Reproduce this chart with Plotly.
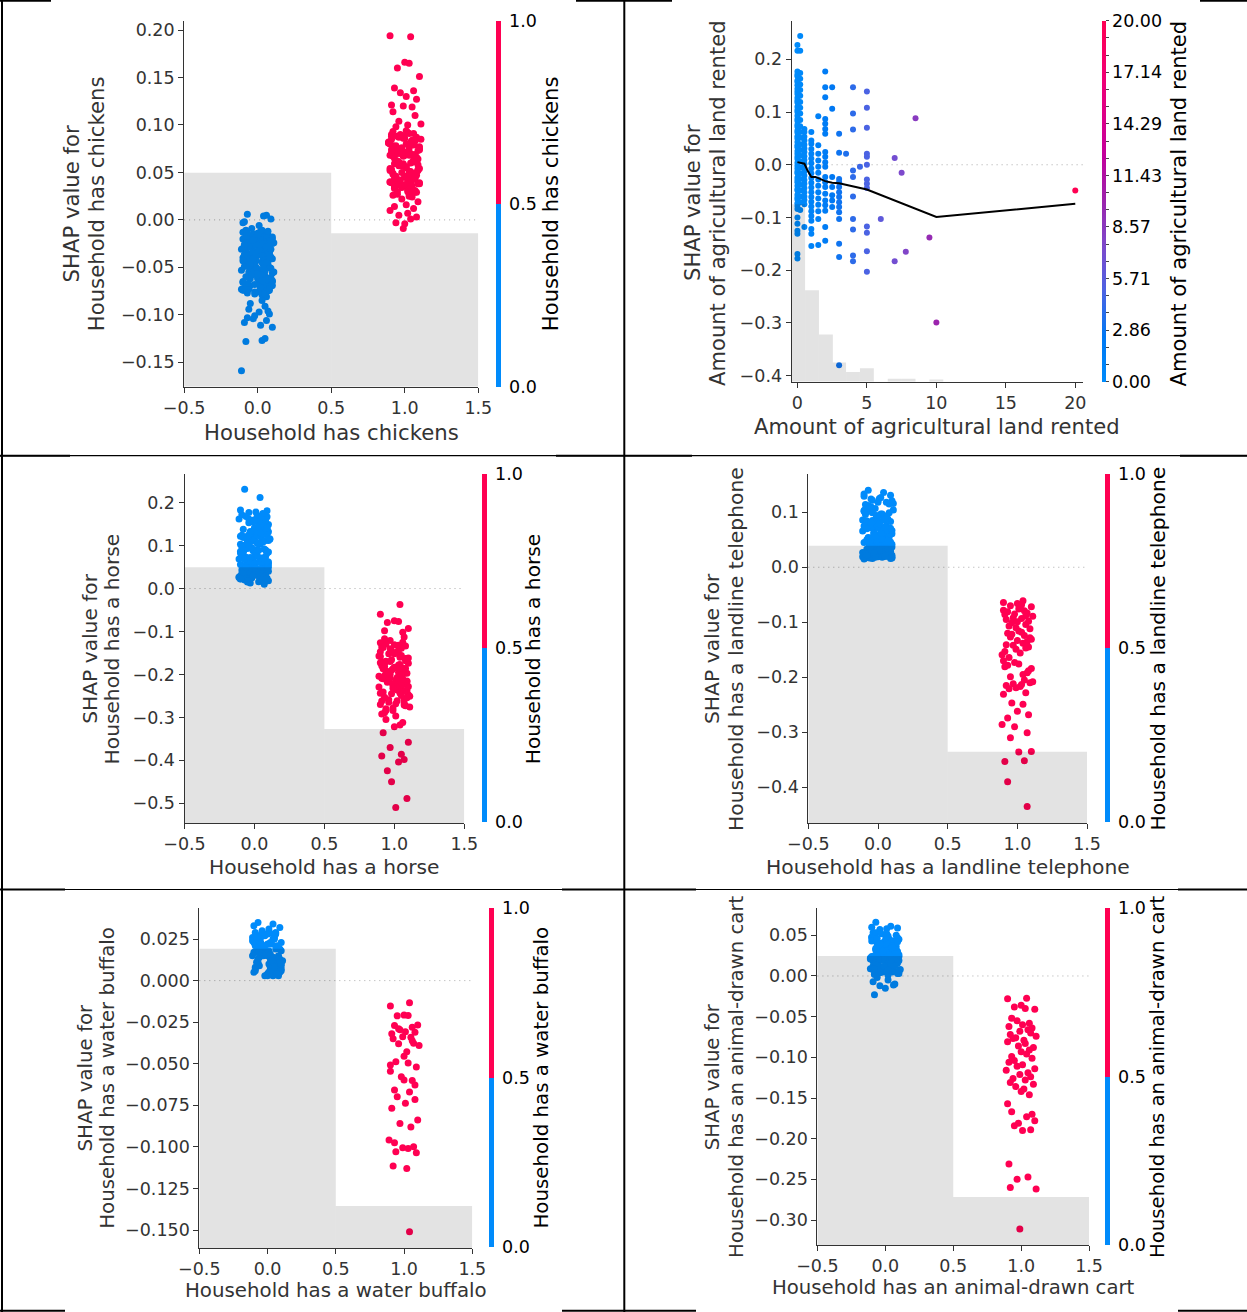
import plotly.graph_objects as go

FONT = "DejaVu Sans"
W, H = 1247, 1312
AXIS_COLOR = "#333333"
BLUE = "#008bfb"
RED = "#ff0052"

# ---------------------------------------------------------------- data
# horizontal jitter offsets used for the binary features (as in shap's x_jitter)
JITTER = [
    -0.07, 0.04, -0.10, 0.09, 0.01, -0.04, 0.06, -0.09, 0.03, 0.10,
    -0.02, 0.07, -0.06, 0.00, 0.08, -0.11, 0.05, -0.03, 0.02, -0.08,
    0.09, -0.05, 0.03, -0.01, 0.06, -0.09, 0.10, -0.07, 0.04, 0.00,
    -0.10, 0.08, -0.04, 0.02, -0.06, 0.05, -0.02, 0.11, -0.08, 0.01,
    0.07, -0.03, 0.04, -0.09, 0.09, -0.05, 0.00, 0.06, -0.07, 0.03,
    -0.01, 0.10, -0.10, 0.05, -0.04, 0.08, -0.06, 0.02, 0.07, -0.08,
    0.03, -0.02, 0.09, -0.09, 0.01, -0.05, 0.06, -0.11, 0.04, 0.00,
    0.08, -0.07, 0.05, -0.03, 0.10, -0.01, -0.06, 0.02, -0.09, 0.07,
    -0.04, 0.06, 0.00, -0.08, 0.09, 0.03, -0.10, 0.04, -0.02, 0.05,
    0.01, -0.06, 0.08, -0.05, 0.02, -0.09, 0.10, -0.03, 0.06, -0.07,
    0.04, -0.01, -0.08, 0.07, -0.04, 0.09, 0.00, -0.10, 0.03, 0.05,
    -0.06, 0.01, 0.08, -0.02, -0.07, 0.06, -0.09, 0.02, 0.10, -0.05,
    0.07, -0.03, 0.03, -0.08, 0.05, -0.11, 0.09, -0.01, 0.00, -0.06,
    0.04, 0.08, -0.04, 0.02, -0.10, 0.06, -0.07, 0.01, 0.09, -0.02,
    -0.05, 0.03, 0.07, -0.09, 0.05, -0.03, 0.10, -0.08, 0.00, 0.04,
    0.06, -0.06, 0.02, -0.01, 0.08, -0.10, 0.03, -0.04, 0.07, -0.07,
    0.05, -0.09, 0.01, 0.10, -0.05, 0.07, -0.02, -0.11, 0.04, -0.07,
    0.08, 0.00, -0.04, 0.06, -0.10, 0.02, 0.09, -0.06, 0.03, -0.01,
    -0.08, 0.11, -0.03, 0.05, -0.09, 0.07, 0.01, -0.05, 0.10, -0.02,
    0.04, -0.07, 0.08, -0.10, 0.00, 0.06, -0.04, 0.02, -0.08, 0.09,
    -0.06, 0.03, -0.01, 0.07, -0.11, 0.05, -0.03, 0.10, -0.09, 0.01,
    0.08, -0.05, 0.04, -0.07, 0.06, 0.00, -0.02, 0.09, -0.10, 0.03,
    -0.06, 0.02, 0.11, -0.04, 0.07, -0.08, 0.05, -0.01, -0.09, 0.08,
    0.01, -0.03, 0.06, -0.07, 0.10, -0.05, 0.03, 0.00, -0.10, 0.04,
]

# --- Household has chickens
CHICKEN_NAME = "Household has chickens"
CHICKEN_SHAP_NO = [
    0.006, 0.004, -0.003, 0.001, -0.006, -0.009, 0.005, -0.002,
    -0.013, -0.041, -0.027, -0.066, -0.018, -0.052, -0.034, -0.073, -0.022, -0.047,
    -0.058, -0.011, -0.039, -0.069, -0.030, -0.015, -0.061, -0.044, -0.025, -0.077,
    -0.036, -0.054, -0.020, -0.064, -0.049, -0.012, -0.071, -0.032, -0.057, -0.024,
    -0.043, -0.068, -0.016, -0.038, -0.075, -0.029, -0.051, -0.062, -0.014, -0.046,
    -0.035, -0.079, -0.021, -0.056, -0.040, -0.067, -0.026, -0.050, -0.017, -0.072,
    -0.033, -0.060, -0.045, -0.023, -0.070, -0.037, -0.053, -0.019, -0.063, -0.031,
    -0.048, -0.076, -0.028, -0.042, -0.059, -0.015, -0.065, -0.035, -0.055, -0.024,
    -0.074, -0.039, -0.047, -0.020, -0.062, -0.030, -0.068, -0.044, -0.013, -0.052,
    -0.078, -0.027, -0.058, -0.036, -0.071, -0.041, -0.018, -0.049, -0.064, -0.033,
    -0.081, -0.022, -0.054, -0.038, -0.069, -0.045, -0.029, -0.061, -0.016, -0.074,
    -0.085, -0.091, -0.094, -0.097, -0.099, -0.101, -0.103, -0.106, -0.108, -0.111, -0.113,
    -0.088, -0.096, -0.104, -0.127, -0.128, -0.125, -0.159,
    -0.019, -0.043, -0.061, -0.028, -0.072, -0.035, -0.052, -0.014, -0.066, -0.040,
    -0.024, -0.057, -0.031, -0.076, -0.047, -0.011, -0.063, -0.037, -0.054, -0.021,
    -0.069, -0.044, -0.027, -0.059, -0.016, -0.073, -0.033, -0.050, -0.023, -0.065,
    -0.038, -0.056, -0.012, -0.070, -0.042, -0.029, -0.060, -0.018, -0.048, -0.075,
    -0.034, -0.053, -0.025, -0.067, -0.039, -0.015, -0.058, -0.045, -0.030, -0.071,
    -0.022, -0.049, -0.064, -0.036, -0.017, -0.055, -0.041, -0.078, -0.026, -0.062,
    -0.032, -0.046, -0.020, -0.068, -0.051, -0.013, -0.074, -0.043, -0.057, -0.028,
]
CHICKEN_SHAP_YES = [
    0.193, 0.194, 0.166, 0.165, 0.160, 0.151, 0.139, 0.136, 0.134, 0.130,
    0.127, 0.121, 0.120, 0.119, 0.114, 0.110, 0.104, 0.101, 0.100, 0.098,
    0.091, 0.052, 0.073, 0.034, 0.086, 0.061, 0.044, 0.079, 0.027, 0.066,
    0.055, 0.088, 0.038, 0.070, 0.048, 0.082, 0.031, 0.059, 0.076, 0.041,
    0.064, 0.093, 0.036, 0.057, 0.084, 0.046, 0.068, 0.029, 0.074, 0.051,
    0.089, 0.039, 0.062, 0.080, 0.043, 0.071, 0.033, 0.058, 0.085, 0.049,
    0.067, 0.025, 0.078, 0.053, 0.092, 0.040, 0.063, 0.075, 0.045, 0.087,
    0.035, 0.060, 0.081, 0.050, 0.069, 0.030, 0.077, 0.056, 0.090, 0.042,
    0.065, 0.083, 0.037, 0.072, 0.054, 0.047, 0.086, 0.032, 0.061, 0.079,
    0.044, 0.068, 0.026, 0.074, 0.058, 0.084, 0.039, 0.064, 0.051, 0.070,
    0.022, 0.019, 0.016, 0.014, 0.012, 0.010, 0.007, 0.005, 0.003, 0.001,
    -0.003, -0.004, -0.009,
    0.058, 0.081, 0.036, 0.067, 0.047, 0.090, 0.029, 0.073, 0.054, 0.041,
    0.085, 0.062, 0.033, 0.076, 0.050, 0.094, 0.044, 0.069, 0.027, 0.080,
    0.056, 0.038, 0.087, 0.065, 0.048, 0.072, 0.031, 0.059, 0.083, 0.042,
    0.075, 0.053, 0.035, 0.088, 0.064, 0.046, 0.071, 0.024, 0.057, 0.082,
    0.040, 0.068, 0.052, 0.078, 0.037, 0.091, 0.061, 0.045, 0.074, 0.030,
]
CHICKEN_HIST_TOP = [0.0497, -0.0141]

# --- Household has a horse
HORSE_NAME = "Household has a horse"
HORSE_SHAP_NO = [
    0.231, 0.212, 0.183, 0.181, 0.178, 0.177, 0.175, 0.172,
    0.151, 0.062, 0.118, 0.034, 0.096, 0.141, 0.075, 0.027, 0.129, 0.053,
    0.163, 0.088, 0.041, 0.110, 0.145, 0.068, 0.022, 0.124, 0.057, 0.099,
    0.156, 0.036, 0.083, 0.134, 0.047, 0.105, 0.168, 0.071, 0.025, 0.115,
    0.138, 0.059, 0.092, 0.031, 0.147, 0.078, 0.044, 0.121, 0.160, 0.065,
    0.101, 0.029, 0.131, 0.050, 0.086, 0.153, 0.038, 0.112, 0.073, 0.166,
    0.024, 0.094, 0.143, 0.055, 0.126, 0.081, 0.033, 0.107, 0.158, 0.069,
    0.045, 0.136, 0.090, 0.020, 0.117, 0.061, 0.149, 0.039, 0.098, 0.128,
    0.076, 0.030, 0.162, 0.052, 0.113, 0.084, 0.140, 0.043, 0.103, 0.067,
    0.026, 0.155, 0.079, 0.120, 0.048, 0.093, 0.170, 0.035, 0.132, 0.058,
    0.108, 0.028, 0.146, 0.072, 0.087, 0.040, 0.125, 0.063, 0.157, 0.023,
    0.037, 0.046, 0.031, 0.042, 0.027, 0.050, 0.035, 0.044, 0.029, 0.039,
    0.018, 0.015, 0.010, 0.013, 0.016,
    0.119, 0.047, 0.162, 0.083, 0.031, 0.139, 0.066, 0.104, 0.025, 0.153,
    0.091, 0.056, 0.127, 0.038, 0.075, 0.167, 0.110, 0.049, 0.144, 0.022,
    0.097, 0.061, 0.133, 0.085, 0.034, 0.115, 0.158, 0.070, 0.042, 0.124,
    0.088, 0.150, 0.029, 0.106, 0.064, 0.137, 0.053, 0.169, 0.080, 0.036,
    0.112, 0.045, 0.147, 0.095, 0.026, 0.130, 0.068, 0.160, 0.058, 0.102,
    0.039, 0.122, 0.077, 0.141, 0.030, 0.089, 0.155, 0.051, 0.116, 0.072,
    0.035, 0.043, 0.028, 0.048, 0.033, 0.040, 0.025, 0.046, 0.037, 0.030,
    0.022, 0.041, 0.027, 0.044, 0.032, 0.038, 0.024, 0.049, 0.036, 0.029,
]
HORSE_SHAP_YES = [
    -0.037, -0.060, -0.075, -0.077, -0.079, -0.093, -0.098, -0.102,
    -0.121, -0.213, -0.164, -0.262, -0.187, -0.139, -0.241, -0.198, -0.152, -0.276,
    -0.225, -0.129, -0.206, -0.173, -0.254, -0.145, -0.233, -0.191, -0.289, -0.160,
    -0.218, -0.134, -0.268, -0.180, -0.247, -0.200, -0.156, -0.229, -0.113, -0.284,
    -0.195, -0.169, -0.238, -0.210, -0.148, -0.259, -0.185, -0.222, -0.126, -0.273,
    -0.203, -0.177, -0.245, -0.162, -0.216, -0.297, -0.189, -0.136, -0.231, -0.208,
    -0.251, -0.171, -0.226, -0.143, -0.280, -0.197, -0.236, -0.158, -0.212, -0.265,
    -0.183, -0.219, -0.117, -0.243, -0.204, -0.166, -0.257, -0.193, -0.228, -0.150,
    -0.292, -0.201, -0.175, -0.239, -0.214, -0.132, -0.270, -0.186, -0.223, -0.207,
    -0.305, -0.312, -0.318, -0.322, -0.336, -0.358, -0.370, -0.386, -0.390, -0.398,
    -0.404, -0.424, -0.450, -0.489, -0.510,
    -0.182, -0.224, -0.147, -0.261, -0.205, -0.168, -0.240, -0.193, -0.131, -0.278,
    -0.215, -0.157, -0.249, -0.187, -0.220, -0.140, -0.266, -0.199, -0.174, -0.234,
    -0.209, -0.125, -0.255, -0.190, -0.163, -0.228, -0.284, -0.202, -0.178, -0.244,
    -0.152, -0.217, -0.196, -0.271, -0.137, -0.232, -0.185, -0.253, -0.211, -0.170,
]
HORSE_HIST_TOP = [0.0496, -0.327]

# --- Household has a landline telephone
PHONE_NAME = "Household has a landline telephone"
PHONE_SHAP_NO = [
    0.140, 0.136, 0.133, 0.131, 0.125, 0.122, 0.118, 0.114,
    0.097, 0.042, 0.071, 0.025, 0.108, 0.056, 0.034, 0.086, 0.020, 0.063,
    0.047, 0.101, 0.029, 0.077, 0.038, 0.092, 0.052, 0.022, 0.067, 0.112,
    0.031, 0.082, 0.045, 0.058, 0.026, 0.095, 0.040, 0.073, 0.018, 0.104,
    0.050, 0.035, 0.088, 0.061, 0.024, 0.079, 0.043, 0.110, 0.032, 0.069,
    0.054, 0.021, 0.090, 0.037, 0.075, 0.027, 0.048, 0.099, 0.041, 0.065,
    0.023, 0.084, 0.033, 0.059, 0.046, 0.106, 0.028, 0.072, 0.039, 0.019,
    0.060, 0.030, 0.044, 0.025, 0.051, 0.036, 0.022, 0.041, 0.028, 0.033,
    0.017, 0.020, 0.016, 0.024, 0.019, 0.018, 0.026, 0.021, 0.015, 0.023,
    0.055, 0.031, 0.083, 0.022, 0.068, 0.041, 0.097, 0.027, 0.061, 0.036,
    0.076, 0.019, 0.049, 0.087, 0.033, 0.058, 0.025, 0.071, 0.044, 0.102,
    0.029, 0.064, 0.038, 0.080, 0.021, 0.052, 0.034, 0.093, 0.026, 0.046,
    0.018, 0.039, 0.024, 0.057, 0.031, 0.020, 0.043, 0.027, 0.035, 0.022,
    0.050, 0.017, 0.030, 0.040, 0.023, 0.028, 0.019, 0.037, 0.025, 0.032,
    0.016, 0.021, 0.029, 0.018, 0.034, 0.024, 0.020, 0.027, 0.017, 0.022,
    0.118, 0.064, 0.091, 0.047, 0.127, 0.078, 0.055, 0.103, 0.069, 0.085,
    0.042, 0.112, 0.073, 0.096, 0.058, 0.121, 0.081, 0.049, 0.107, 0.066,
    0.088, 0.053, 0.115, 0.075, 0.099, 0.045, 0.129, 0.062, 0.083, 0.109,
    0.051, 0.094, 0.070, 0.116, 0.057, 0.086, 0.101, 0.048, 0.079, 0.124,
]
PHONE_SHAP_YES = [
    -0.061, -0.064, -0.066, -0.068, -0.070, -0.072,
    -0.081, -0.104, -0.092, -0.076, -0.098, -0.086, -0.110, -0.079, -0.095, -0.083,
    -0.101, -0.089, -0.074, -0.107, -0.093, -0.078, -0.112, -0.085, -0.099, -0.088,
    -0.120, -0.138, -0.127, -0.145, -0.116, -0.153, -0.131, -0.142, -0.124, -0.159,
    -0.135, -0.149, -0.118, -0.164, -0.128, -0.141, -0.156, -0.122, -0.147, -0.133,
    -0.170, -0.188, -0.178, -0.195, -0.173, -0.184, -0.199, -0.176, -0.192, -0.181,
    -0.205, -0.212, -0.208, -0.215, -0.219, -0.213, -0.221, -0.210, -0.217, -0.231,
    -0.228, -0.247, -0.262, -0.268, -0.274, -0.249, -0.286, -0.290, -0.301, -0.310,
    -0.335, -0.336, -0.353, -0.352, -0.390, -0.435,
]
PHONE_HIST_TOP = [0.0393, -0.3353]

# --- Household has a water buffalo
BUFFALO_NAME = "Household has a water buffalo"
BUFFALO_SHAP_NO = [
    0.035, 0.034, 0.033, 0.032, 0.031, 0.030,
    0.012, 0.024, 0.006, 0.018, 0.028, 0.009, 0.021, 0.004, 0.015, 0.026,
    0.008, 0.019, 0.013, 0.027, 0.005, 0.022, 0.010, 0.016, 0.029, 0.007,
    0.023, 0.011, 0.025, 0.004, 0.017, 0.014, 0.020, 0.006, 0.027, 0.009,
    0.018, 0.012, 0.024, 0.005, 0.021, 0.015, 0.028, 0.008, 0.013, 0.026,
    0.003, 0.019, 0.010, 0.022, 0.016, 0.007, 0.025, 0.011, 0.020, 0.004,
    0.014, 0.023, 0.009, 0.017, 0.006, 0.027, 0.012, 0.021, 0.005, 0.018,
    0.010, 0.024, 0.003, 0.015, 0.008, 0.022, 0.013, 0.019, 0.006, 0.016,
    0.017, 0.008, 0.025, 0.013, 0.021, 0.005, 0.028, 0.011, 0.019, 0.007,
    0.023, 0.014, 0.003, 0.026, 0.010, 0.018, 0.006, 0.022, 0.015, 0.029,
    0.009, 0.020, 0.004, 0.024, 0.012, 0.016, 0.027, 0.007, 0.019, 0.011,
    0.022, 0.005, 0.014, 0.025, 0.009, 0.018, 0.003, 0.021, 0.013, 0.028,
    0.006, 0.016, 0.010, 0.023, 0.004, 0.020, 0.012, 0.026, 0.008, 0.015,
]
BUFFALO_SHAP_YES = [
    -0.0133, -0.0153, -0.0207, -0.0210, -0.0212, -0.0267, -0.0270, -0.0280,
    -0.0295, -0.0307, -0.0310, -0.0320, -0.0337, -0.0340, -0.0350, -0.0377,
    -0.0380, -0.0390, -0.0428, -0.0488, -0.0495, -0.0508, -0.0520, -0.0578,
    -0.0598, -0.0600, -0.0658, -0.0670, -0.0698, -0.0715, -0.0738, -0.0768,
    -0.0839, -0.0859, -0.0880, -0.0959, -0.0999, -0.1005, -0.1010, -0.1029,
    -0.1035, -0.1115, -0.1130, -0.0290, -0.0362, -0.0455, -0.0545, -0.0628,
    -0.0975, -0.1510,
]
BUFFALO_HIST_TOP = [0.0192, -0.1356]

# --- Household has an animal-drawn cart
CART_NAME = "Household has an animal-drawn cart"
CART_SHAP_NO = [
    0.066, 0.061, 0.060, 0.059, 0.058, 0.057,
    0.031, 0.012, 0.045, 0.024, 0.005, 0.038, 0.017, 0.050, 0.028, 0.009,
    0.042, 0.021, 0.034, 0.002, 0.047, 0.014, 0.026, 0.039, 0.007, 0.053,
    0.019, 0.032, 0.011, 0.044, 0.023, 0.036, 0.004, 0.049, 0.016, 0.029,
    0.041, 0.008, 0.025, 0.052, 0.013, 0.035, 0.020, 0.046, 0.003, 0.030,
    0.018, 0.043, 0.010, 0.027, 0.037, 0.006, 0.048, 0.022, 0.033, 0.015,
    0.040, 0.001, 0.027, 0.051, 0.012, 0.024, 0.044, 0.018, 0.035, 0.009,
    0.029, 0.021, 0.014, 0.038, 0.025, 0.016, 0.031, 0.020, 0.026, 0.022,
    -0.002, -0.005, -0.007, -0.010, -0.012, -0.011, -0.015, -0.023,
    0.028, 0.011, 0.043, 0.020, 0.036, 0.005, 0.049, 0.016, 0.032, 0.024,
    0.039, 0.008, 0.045, 0.027, 0.013, 0.053, 0.019, 0.034, 0.002, 0.041,
    0.023, 0.030, 0.010, 0.047, 0.017, 0.037, 0.026, 0.006, 0.050, 0.021,
    0.033, 0.014, 0.044, 0.029, 0.003, 0.038, 0.018, 0.052, 0.025, 0.009,
    0.035, 0.022, 0.042, 0.012, 0.031, 0.046, 0.015, 0.027, 0.040, 0.007,
    0.024, 0.019, 0.034, 0.028, 0.016, 0.030, 0.021, 0.026, 0.013, 0.023,
]
CART_SHAP_YES = [
    -0.0275, -0.0280, -0.036, -0.040, -0.038, -0.041, -0.052, -0.058, -0.055, -0.060,
    -0.064, -0.062, -0.068, -0.066, -0.072, -0.070, -0.076, -0.074, -0.079, -0.077,
    -0.083, -0.081, -0.088, -0.086, -0.093, -0.091, -0.099, -0.096, -0.104, -0.101,
    -0.109, -0.106, -0.114, -0.111, -0.119, -0.116, -0.124, -0.121, -0.128, -0.126,
    -0.133, -0.131, -0.139, -0.136, -0.146, -0.142, -0.157, -0.170, -0.167, -0.173,
    -0.181, -0.178, -0.184, -0.190, -0.189, -0.231, -0.247, -0.250, -0.262, -0.260,
    -0.311,
]
CART_HIST_TOP = [0.0246, -0.2717]

# --- Amount of agricultural land rented (continuous feature)
LAND_NAME = "Amount of agricultural land rented"
LAND_AMOUNTS = [0.0, 0.2, 0.5, 1.0, 1.5, 2.0, 2.5, 3.0, 3.5, 4.0, 4.5, 5.0,
                6.0, 7.0, 7.5, 7.8, 8.5, 9.5, 10.0, 20.0]
LAND_SHAP_BY_AMOUNT = [
    [0.227, 0.216, 0.177, 0.171, 0.168, 0.160, 0.157, 0.151, 0.144, 0.139, 0.134,
     0.127, 0.122, 0.118, 0.110, 0.104, 0.100, 0.093, 0.087, 0.083, 0.076, 0.072,
     0.065, 0.061, 0.054, 0.050, 0.043, 0.037, 0.033, 0.026, 0.021, 0.015, 0.011,
     0.004, -0.002, -0.007, -0.013, -0.016, -0.024, -0.029, -0.033, -0.040, -0.046,
     -0.049, -0.057, -0.062, -0.066, -0.073, -0.078, -0.084, -0.100, -0.112, -0.125,
     -0.131, -0.169, -0.178],
    [0.244, 0.216, 0.174, 0.163, 0.152, 0.142, 0.131, 0.119, 0.108, 0.097, 0.085,
     0.073, 0.062, 0.051, 0.039, 0.028, 0.017, 0.006, -0.005, -0.016, -0.027, -0.038,
     -0.049, -0.060, -0.071, -0.086],
    [0.068, 0.062, 0.053, 0.046, 0.038, 0.031, 0.024, 0.016, 0.009, 0.002, -0.006,
     -0.013, -0.021, -0.029, -0.036, -0.044, -0.052, -0.060, -0.067, -0.075, -0.118],
    [0.062, 0.046, 0.040, 0.030, 0.021, 0.012, 0.003, -0.007, -0.016, -0.025, -0.034,
     -0.043, -0.052, -0.061, -0.070, -0.079, -0.088, -0.097, -0.106, -0.122, -0.131,
     -0.154],
    [0.092, 0.037, 0.021, 0.008, -0.004, -0.015, -0.028, -0.040, -0.052, -0.064,
     -0.076, -0.088, -0.103, -0.152],
    [0.177, 0.147, 0.128, 0.087, 0.078, 0.068, 0.059, 0.024, 0.015, 0.005, -0.004,
     -0.023, -0.033, -0.042, -0.055, -0.068, -0.077, -0.087, -0.118, -0.144],
    [0.147, 0.106, -0.023, -0.042, -0.058, -0.068, -0.080],
    [0.059, 0.023, -0.027, -0.033, -0.042, -0.052, -0.061, -0.071, -0.080, -0.090,
     -0.103, -0.150, -0.175, -0.380],
    [0.021],
    [0.147, 0.097, 0.067, -0.011, -0.023, -0.060, -0.103, -0.123, -0.172, -0.183],
    [-0.004],
    [0.139, 0.108, 0.070, 0.021, 0.015, 0.000, -0.028, -0.036, -0.044, -0.117,
     -0.129, -0.164, -0.203],
    [-0.103],
    [0.013, -0.183],
    [-0.015],
    [-0.165],
    [0.088],
    [-0.138],
    [-0.299],
    [-0.049],
]
LAND_TREND_X = [0.0, 0.5, 0.75, 1.0, 1.3, 2.0, 2.5, 3.0, 5.0, 10.0, 20.0]
LAND_TREND_Y = [0.005, 0.002, -0.012, -0.023, -0.023, -0.031, -0.034, -0.035, -0.047, -0.099, -0.074]
LAND_HIST_LEFT = [-0.5, 0.55, 1.55, 2.55, 3.5, 4.5, 6.5, 7.5, 9.5]
LAND_HIST_RIGHT = [0.55, 1.55, 2.55, 3.5, 4.5, 5.5, 7.5, 8.5, 10.5]
LAND_HIST_TOP = [-0.075, -0.238, -0.322, -0.375, -0.393, -0.386, -0.406, -0.406, -0.407]

# ---------------------------------------------------------------- layout helpers
fig = go.Figure()
layout = dict(
    width=W, height=H, margin=dict(l=0, r=0, t=0, b=0, pad=0, autoexpand=False),
    paper_bgcolor="white", plot_bgcolor="white", showlegend=False,
    barmode="overlay", font=dict(family=FONT, color=AXIS_COLOR),
)
annotations = []
shapes = []

TICK_FONT = dict(family=FONT, size=17.5, color=AXIS_COLOR)
CB_FONT = dict(family=FONT, size=17.5, color="black")
MARKER_SIZE = 7

SHAP_RED_BLUE = [
    [0.0, "rgb(0,139,251)"], [0.125, "rgb(0,120,243)"], [0.25, "rgb(75,99,227)"],
    [0.375, "rgb(125,73,204)"], [0.5, "rgb(155,36,173)"], [0.625, "rgb(194,0,156)"],
    [0.75, "rgb(224,0,134)"], [0.875, "rgb(245,0,109)"], [1.0, "rgb(255,0,82)"],
]
BINARY_SCALE = [[0.0, BLUE], [0.5, BLUE], [0.5, RED], [1.0, RED]]


def fmt(v, nd):
    s = f"{v:.{nd}f}"
    if s.startswith("-"):
        s = "\u2212" + s[1:]
    return s


def sid(i):
    return "" if i == 1 else str(i)


def text(t, x, y, size, color, angle=0):
    annotations.append(dict(
        text=t, x=x / W, y=1 - y / H, xref="paper", yref="paper", showarrow=False,
        xanchor="center", yanchor="middle", textangle=angle,
        font=dict(family=FONT, size=size, color=color)))


def setup_axes(i, box, xr, yr, xticks, xnd, yticks, ynd):
    x0, y0, x1, y1 = box
    s = sid(i)
    common = dict(showline=True, linecolor=AXIS_COLOR, linewidth=1, ticks="outside",
                  ticklen=5, tickwidth=1, tickcolor=AXIS_COLOR, tickfont=TICK_FONT,
                  showgrid=False, zeroline=False, fixedrange=True, automargin=False)
    layout["xaxis" + s] = dict(domain=[x0 / W, x1 / W], range=xr, anchor="y" + s,
                               tickvals=xticks, ticktext=[fmt(v, xnd) for v in xticks],
                               **common)
    layout["yaxis" + s] = dict(domain=[1 - y1 / H, 1 - y0 / H], range=yr, anchor="x" + s,
                               tickvals=yticks, ticktext=[fmt(v, ynd) for v in yticks],
                               **common)
    layout["yaxis" + str(i + 6)] = dict(overlaying="y" + s, anchor="x" + s, range=yr,
                                        visible=False, fixedrange=True)
    shapes.append(dict(type="line", xref=f"x{s} domain", yref="y" + s, x0=0, x1=1, y0=0, y1=0,
                       line=dict(color="#aaaaaa", width=1, dash="1px,4px"), layer="below"))


def colorbar(i, scale, cmax, cb, tickvals, ticktext, ticklen, tickcolor):
    cx, cw, ct, cbm = cb
    key = "coloraxis" + sid(i)
    layout[key] = dict(
        colorscale=scale, cmin=0, cmax=cmax,
        colorbar=dict(
            thickness=cw, thicknessmode="pixels", len=cbm - ct, lenmode="pixels",
            x=cx / W, xanchor="left", xpad=0, y=1 - ct / H, yanchor="top", ypad=0,
            outlinewidth=0, tickvals=tickvals, ticktext=ticktext, ticks="outside",
            ticklen=ticklen, tickwidth=1, tickcolor=tickcolor, tickfont=CB_FONT))
    return key


def titles(name, size, xt, yt1, yt2, cbt):
    text(name, xt[0], xt[1], size, AXIS_COLOR)
    text("SHAP value for", yt1[0], yt1[1], size, AXIS_COLOR, -90)
    text(name, yt2[0], yt2[1], size, AXIS_COLOR, -90)
    text(name, cbt[0], cbt[1], size, "black", -90)


def binary_panel(i, name, shap_no, shap_yes, hist_top, box, yr, yticks, ynd, cb,
                 tsize, xt, yt1, yt2, cbt):
    s = sid(i)
    setup_axes(i, box, [-0.5, 1.5], yr, [-0.5, 0.0, 0.5, 1.0, 1.5], 1, yticks, ynd)
    cax = colorbar(i, BINARY_SCALE, 1, cb, [0, 0.5, 1], ["0.0", "0.5", "1.0"], 5,
                   "rgba(0,0,0,0)")
    xs = [0 + JITTER[k] for k in range(len(shap_no))] + \
         [1 + JITTER[-1 - k] for k in range(len(shap_yes))]
    ys = shap_no + shap_yes
    cs = [0] * len(shap_no) + [1] * len(shap_yes)
    fig.add_trace(go.Scatter(x=xs, y=ys, mode="markers", xaxis="x" + s, yaxis="y" + s,
                             marker=dict(size=MARKER_SIZE, color=cs, coloraxis=cax,
                                         line=dict(width=0)),
                             hoverinfo="skip"))
    fig.add_trace(go.Bar(x=[0, 1], y=[t - yr[0] for t in hist_top], base=yr[0], width=[1, 1],
                         xaxis="x" + s, yaxis="y" + str(i + 6),
                         marker=dict(color="rgba(0,0,0,0.11)", line=dict(width=0)),
                         hoverinfo="skip"))
    titles(name, tsize, xt, yt1, yt2, cbt)


# ---------------------------------------------------------------- panels
binary_panel(1, CHICKEN_NAME, CHICKEN_SHAP_NO, CHICKEN_SHAP_YES, CHICKEN_HIST_TOP,
             (184.1, 20.7, 478.3, 386.7), [-0.1757, 0.2098],
             [0.20, 0.15, 0.10, 0.05, 0.0, -0.05, -0.10, -0.15], 2,
             (496.2, 4.5, 20.7, 386.7), 21.2,
             (331, 432), (71.7, 203.8), (96.4, 203.8), (550.4, 203.8))

binary_panel(3, HORSE_NAME, HORSE_SHAP_NO, HORSE_SHAP_YES, HORSE_HIST_TOP,
             (184.5, 474.3, 464.3, 823.3), [-0.5466, 0.266],
             [0.2, 0.1, 0.0, -0.1, -0.2, -0.3, -0.4, -0.5], 1,
             (482.3, 4.5, 474.3, 822.7), 20.2,
             (324.4, 866.7), (89.7, 649), (112.4, 649), (533.3, 649))

binary_panel(4, PHONE_NAME, PHONE_SHAP_NO, PHONE_SHAP_YES, PHONE_HIST_TOP,
             (808.3, 474.3, 1087.1, 823.3), [-0.4655, 0.169],
             [0.1, 0.0, -0.1, -0.2, -0.3, -0.4], 1,
             (1105, 4.5, 474.3, 822.7), 20.3,
             (947.7, 866.7), (712, 649), (736, 649), (1157.5, 649))

binary_panel(5, BUFFALO_NAME, BUFFALO_SHAP_NO, BUFFALO_SHAP_YES, BUFFALO_HIST_TOP,
             (199.3, 908.3, 472.3, 1248.3), [-0.161, 0.0435],
             [0.025, 0.0, -0.025, -0.05, -0.075, -0.10, -0.125, -0.15], 3,
             (489.4, 4.5, 908.3, 1247.7), 19.8,
             (335.8, 1290), (84.5, 1078), (106.8, 1078), (540.5, 1078))

binary_panel(6, CART_NAME, CART_SHAP_NO, CART_SHAP_YES, CART_HIST_TOP,
             (817.4, 908.3, 1089.1, 1245), [-0.3307, 0.0832],
             [0.05, 0.0, -0.05, -0.10, -0.15, -0.20, -0.25, -0.30], 2,
             (1105, 4.5, 908.3, 1245), 19.7,
             (953.3, 1287.5), (712.7, 1076.5), (736.6, 1076.5), (1157.5, 1076.5))

# continuous panel (2)
land_yr = [-0.4114, 0.2732]
setup_axes(2, (791.6, 20.7, 1083.2, 381.7), [-0.42, 20.57], land_yr,
           [0, 5, 10, 15, 20], 0, [0.2, 0.1, 0.0, -0.1, -0.2, -0.3, -0.4], 1)
cb_vals = [k * 20 / 21 for k in range(22)]
cb_text = [f"{v:.2f}" if k % 3 == 0 else "" for k, v in enumerate(cb_vals)]
cax2 = colorbar(2, SHAP_RED_BLUE, 20, (1101.7, 4, 20.7, 381.2), cb_vals, cb_text, 3, "#444444")
land_x = [a for a, ys in zip(LAND_AMOUNTS, LAND_SHAP_BY_AMOUNT) for _ in ys]
land_y = [v for ys in LAND_SHAP_BY_AMOUNT for v in ys]
fig.add_trace(go.Scatter(x=land_x, y=land_y, mode="markers", xaxis="x2", yaxis="y2",
                         marker=dict(size=6, color=land_x, coloraxis=cax2, line=dict(width=0)),
                         hoverinfo="skip"))
fig.add_trace(go.Scatter(x=LAND_TREND_X, y=LAND_TREND_Y, mode="lines", xaxis="x2", yaxis="y2",
                         line=dict(color="black", width=2), hoverinfo="skip"))
fig.add_trace(go.Bar(x=[(l + r) / 2 for l, r in zip(LAND_HIST_LEFT, LAND_HIST_RIGHT)],
                     width=[r - l for l, r in zip(LAND_HIST_LEFT, LAND_HIST_RIGHT)],
                     y=[t - land_yr[0] for t in LAND_HIST_TOP], base=land_yr[0],
                     xaxis="x2", yaxis="y8",
                     marker=dict(color="rgba(0,0,0,0.11)", line=dict(width=0)), hoverinfo="skip"))
titles(LAND_NAME, 21.1, (937.4, 426.7), (692, 203), (717, 203), (1178.4, 203))


# ---------------------------------------------------------------- table borders
def hline(y, x0=0, x1=W, w=2):
    shapes.append(dict(type="line", xref="paper", yref="paper", x0=x0 / W, x1=x1 / W,
                       y0=1 - y / H, y1=1 - y / H, line=dict(color="black", width=w), layer="above"))


def vline(x, y0=0, y1=H, w=2):
    shapes.append(dict(type="line", xref="paper", yref="paper", x0=x / W, x1=x / W,
                       y0=1 - y0 / H, y1=1 - y1 / H, line=dict(color="black", width=w), layer="above"))


# top / bottom edges only show where the pasted chart images do not cover them
for a, b in [(0, 51), (576, 672), (1200, W)]:
    hline(0.8, a, b)
for a, b in [(0, 65), (562, 696), (1178, W)]:
    hline(1310.7, a, b)
# inner horizontal rules: thin across, full thickness between the images
for y, segs in [(455.7, [(0, 70), (556, 692), (1180, W)]),
                (889.5, [(0, 65), (562, 696), (1178, W)])]:
    hline(y, 0, W, 1.2)
    for a, b in segs:
        hline(y, a, b)
vline(2.0)
vline(624.3)

layout["annotations"] = annotations
layout["shapes"] = shapes
fig.update_layout(**layout)
fig.write_html("out.html")
